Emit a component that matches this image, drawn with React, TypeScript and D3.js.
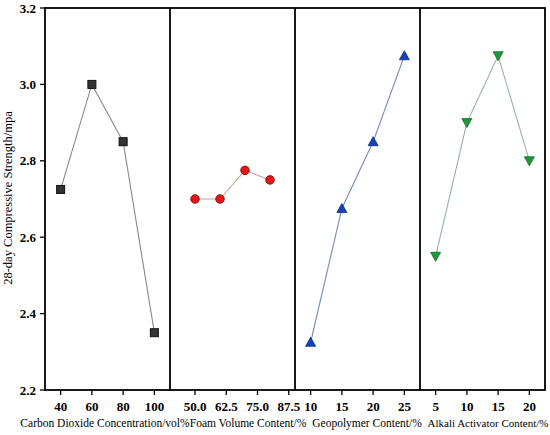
import React from "react";
import * as d3 from "d3";

const co2X = [40, 60, 80, 100];
const co2Y = [2.725, 3.0, 2.85, 2.35];
const foamX = [50, 60, 70, 80];
const foamY = [2.7, 2.7, 2.775, 2.75];
const geoX = [10, 15, 20, 25];
const geoY = [2.325, 2.675, 2.85, 3.075];
const alkX = [5, 10, 15, 20];
const alkY = [2.55, 2.9, 3.075, 2.8];

const co2Ticks = [40, 60, 80, 100];
const foamTicks = [50, 62.5, 75, 87.5];
const geoTicks = [10, 15, 20, 25];
const alkTicks = [5, 10, 15, 20];
const yTicks = [2.2, 2.4, 2.6, 2.8, 3.0, 3.2];

const titles = [
  "Carbon Dioxide Concentration/vol%",
  "Foam Volume Content/%",
  "Geopolymer Content/%",
  "Alkali Activator Content/%",
];
const yTitle = "28-day Compressive Strength/mpa";

const W = 550, H = 435;
const left = 45, top = 8, bottom = 390, panelW = 125;

type Panel = {
  xs: number[]; ys: number[]; ticks: number[]; domain: [number, number];
  fmt: (v: number) => string; marker: string; fill: string; stroke: string; line: string;
  titleX: number; titleSize: number;
};

const panels: Panel[] = [
  { xs: co2X, ys: co2Y, ticks: co2Ticks, domain: [30, 110], fmt: (v) => String(v), marker: "square", fill: "#333", stroke: "#111", line: "#8a8a8a", titleX: 105, titleSize: 11.5 },
  { xs: foamX, ys: foamY, ticks: foamTicks, domain: [40, 90], fmt: (v) => v.toFixed(1), marker: "circle", fill: "#e01818", stroke: "#8a0000", line: "#c8a0a0", titleX: 248, titleSize: 11.5 },
  { xs: geoX, ys: geoY, ticks: geoTicks, domain: [7.5, 27.5], fmt: (v) => String(v), marker: "triangle", fill: "#1545b5", stroke: "#0a2a80", line: "#7090b8", titleX: 367, titleSize: 11.5 },
  { xs: alkX, ys: alkY, ticks: alkTicks, domain: [2.5, 22.5], fmt: (v) => String(v), marker: "triangleDown", fill: "#21973a", stroke: "#0d6a22", line: "#94b4a4", titleX: 488, titleSize: 11 },
];

const y = d3.scaleLinear().domain([2.2, 3.2]).range([bottom, top]);

function Marker({ type, cx, cy, fill, stroke }: { type: string; cx: number; cy: number; fill: string; stroke: string }) {
  if (type === "square") return <rect x={cx - 4} y={cy - 4} width={8} height={8} fill={fill} stroke={stroke} strokeWidth={1} />;
  if (type === "circle") return <circle cx={cx} cy={cy} r={4.3} fill={fill} stroke={stroke} strokeWidth={0.8} />;
  if (type === "triangle") {
    const p = `${cx},${cy - 5} ${cx - 5},${cy + 4} ${cx + 5},${cy + 4}`;
    return <polygon points={p} fill={fill} stroke={stroke} strokeWidth={0.8} />;
  }
  const p = `${cx},${cy + 5} ${cx - 5},${cy - 4} ${cx + 5},${cy - 4}`;
  return <polygon points={p} fill={fill} stroke={stroke} strokeWidth={0.8} />;
}

export default function App() {
  const font = "'Liberation Serif', 'Times New Roman', serif";
  return (
    <svg width={W} height={H} style={{ position: "absolute", left: 0, top: 0, background: "#fff" }} fontFamily={font}>
      {panels.map((p, i) => {
        const x0 = left + i * panelW;
        const x = d3.scaleLinear().domain(p.domain).range([x0, x0 + panelW]);
        const line = d3.line<number>().x((_, j) => x(p.xs[j])).y((d) => y(d));
        return (
          <g key={i}>
            <path d={line(p.ys) || ""} fill="none" stroke={p.line} strokeWidth={1.1} />
            {p.ys.map((v, j) => (
              <Marker key={j} type={p.marker} cx={x(p.xs[j])} cy={y(v)} fill={p.fill} stroke={p.stroke} />
            ))}
            {p.ticks.map((t) => (
              <g key={t}>
                <line x1={x(t)} x2={x(t)} y1={bottom} y2={bottom + 5} stroke="#000" strokeWidth={1.3} />
                <text x={x(t)} y={bottom + 21} textAnchor="middle" fontSize={13} fontWeight="bold">{p.fmt(t)}</text>
              </g>
            ))}
            <text x={p.titleX} y={427} textAnchor="middle" fontSize={p.titleSize}>{titles[i]}</text>
            {i > 0 && <line x1={x0} x2={x0} y1={top} y2={bottom} stroke="#000" strokeWidth={1.8} />}
          </g>
        );
      })}
      <rect x={left} y={top} width={panelW * 4} height={bottom - top} fill="none" stroke="#000" strokeWidth={1.8} />
      {yTicks.map((t) => (
        <g key={t}>
          <line x1={left - 5} x2={left} y1={y(t)} y2={y(t)} stroke="#000" strokeWidth={1.3} />
          <text x={left - 9} y={y(t) + 4.5} textAnchor="end" fontSize={13} fontWeight="bold">{t.toFixed(1)}</text>
        </g>
      ))}
      <text transform={`translate(12,198) rotate(-90)`} textAnchor="middle" fontSize={12.5}>{yTitle}</text>
    </svg>
  );
}
